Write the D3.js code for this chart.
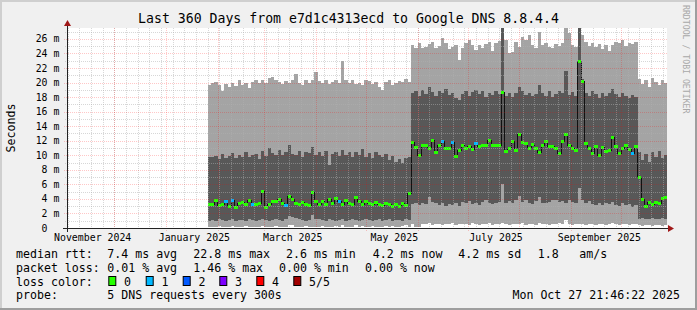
<!DOCTYPE html>
<html>
<head>
<meta charset="utf-8">
<script src="https://cdn.jsdelivr.net/npm/d3@7"></script>
<style>
  body { margin: 0; background: #fff; }
  svg { display: block; font-family: "DejaVu Sans Mono", monospace; }
</style>
</head>
<body>
<svg width="697" height="310"></svg>
<script>
// smokeping: 5 pings per round, consolidated to 2 day steps
const firstDay = "2025-01-26";
const stepDays = 2;

// median ping, ms
const medianRtt = [
  3.3, 3.2, 3.8, 3.1, 3.2, 3.7, 2.9, 3.8, 2.8, 3.4,
  3.5, 3.3, 3.8, 3.2, 3.2, 3.4, 5.0, 2.8, 3.3, 3.6,
  3.7, 3.9, 3.4, 3.1, 4.3, 3.9, 3.4, 3.2, 3.5, 3.3,
  3.1, 4.9, 3.6, 3.3, 3.7, 3.2, 3.9, 3.4, 4.1, 3.6,
  3.3, 3.8, 3.4, 3.2, 4.2, 3.6, 3.3, 3.7, 3.4, 3.2,
  3.5, 3.3, 3.1, 3.4, 3.2, 2.9, 3.3, 3.0, 3.4, 3.1,
  4.8,
  11.7, 11.1, 10.0, 11.4, 11.4, 11.0, 12.1, 10.4, 11.3, 11.9,
  11.0, 11.0, 11.7, 9.8, 10.7, 11.4, 11.0, 11.2, 10.8, 11.6,
  11.2, 11.3, 11.3, 12.1, 11.3, 11.3, 11.3, 18.6, 10.5, 11.0,
  11.9, 10.7, 12.8, 11.8, 11.6, 11.0, 11.5, 10.9, 10.4, 11.3,
  11.9, 11.2, 11.2, 11.0, 10.3, 11.9, 12.9, 11.4, 10.9, 10.6,
  22.9, 20.1, 11.6, 11.0, 10.3, 11.2, 10.0, 11.1, 10.5, 10.6,
  12.5, 11.2, 10.3, 11.0, 11.3, 10.8, 10.3, 11.2,
  7.0, 3.9, 3.0, 3.5, 3.3, 3.5, 3.4, 4.0, 4.2
];

// fastest ping (smoke bottom)
const pingMin = [
  0.2, 0.15, 0.2, 0.3, 0.2, 0.15, 0.2, 0.25, 0.2, 0.15,
  0.2, 0.3, 0.2, 0.15, 0.2, 0.2, 0.25, 0.15, 0.2, 0.2,
  0.3, 0.2, 0.15, 0.2, 0.45, 0.4, 0.2, 0.15, 0.2, 0.25,
  0.2, 0.15, 0.2, 0.2, 0.3, 0.2, 0.15, 0.2, 0.25, 0.2,
  0.4, 0.2, 0.15, 0.2, 0.35, 0.2, 0.25, 0.2, 0.15, 0.3,
  0.2, 0.2, 0.15, 0.25, 0.2, 0.3, 0.2, 0.15, 0.25, 0.35,
  0.2,
  0.5, 0.15, 0.2, 0.6, 0.5, 0.7, 0.4, 0.6, 0.5, 0.45,
  0.6, 0.5, 0.7, 0.4, 0.55, 0.5, 0.6, 0.45, 0.7, 0.5,
  0.4, 0.6, 0.5, 0.65, 0.45, 0.5, 0.6, 0.7, 0.5, 0.4,
  0.6, 0.5, 0.55, 0.7, 0.45, 0.5, 0.6, 0.4, 0.65, 0.5,
  0.55, 0.45, 0.6, 0.5, 0.7, 0.5, 1.1, 0.6, 0.45, 0.5,
  0.6, 0.5, 0.4, 0.6, 0.55, 0.45, 0.5, 0.6, 0.4, 0.5,
  0.65, 0.5, 0.45, 0.6, 0.5, 0.4, 0.55, 0.5,
  0.4, 0.3, 0.35, 0.4, 0.3, 0.35, 0.4, 0.3, 0.35
];

// second ping (dark smoke bottom)
const pingLow = [
  1.0, 1.1, 1.0, 1.2, 1.1, 1.0, 1.1, 1.2, 1.0, 1.1,
  1.1, 1.0, 1.2, 1.1, 1.0, 1.1, 1.2, 1.1, 1.0, 1.1,
  1.2, 1.1, 1.0, 1.3, 1.6, 1.5, 1.4, 1.2, 1.1, 1.0,
  1.1, 1.8, 1.3, 1.2, 1.1, 1.0, 1.2, 1.1, 1.0, 1.1,
  1.2, 1.0, 1.1, 1.2, 1.1, 1.0, 1.1, 1.2, 1.1, 1.0,
  1.1, 1.2, 1.0, 1.1, 1.2, 1.0, 1.1, 1.1, 1.0, 1.2,
  1.1,
  3.3, 3.4, 3.2, 3.5, 3.3, 4.3, 3.6, 3.4, 3.2, 3.5,
  3.0, 3.3, 3.1, 3.4, 3.0, 3.6, 3.4, 3.7, 3.3, 3.5,
  3.2, 3.6, 3.8, 3.4, 3.3, 3.5, 3.6, 6.0, 3.5, 3.7,
  3.4, 3.8, 4.4, 3.6, 3.9, 3.5, 3.3, 3.7, 4.2, 3.5,
  3.4, 3.6, 3.8, 3.9, 3.6, 3.7, 3.5, 3.9, 3.6, 3.4,
  5.5, 3.8, 3.5, 3.7, 3.3, 3.2, 3.5, 3.1, 3.4, 3.3,
  3.6, 3.2, 3.0, 3.4, 3.1, 3.3, 2.9, 3.2,
  1.3, 1.4, 1.2, 1.3, 1.4, 1.2, 1.3, 1.4, 1.3
];

// fourth ping (dark smoke top)
const pingHigh = [
  9.8, 9.7, 9.9, 9.5, 10.2, 9.6, 9.9, 10.3, 9.6, 10.1,
  9.8, 10.4, 9.7, 10.0, 10.2, 9.5, 10.6, 9.9, 11.0, 10.3,
  10.1, 10.7, 10.0, 10.4, 11.4, 10.2, 10.0, 10.6, 9.8, 10.5,
  10.3, 11.2, 10.1, 10.4, 9.9, 10.6, 8.7, 10.2, 10.5, 9.9,
  10.7, 10.1, 10.4, 9.7, 10.5, 10.0, 10.8, 9.8, 10.3, 9.6,
  10.4, 10.0, 9.7, 10.2, 9.4, 9.9, 9.1, 9.5, 9.0, 9.6,
  9.8,
  18.5, 18.8, 18.2, 19.0, 18.4, 19.4, 18.7, 18.1, 18.9, 18.5,
  19.1, 18.3, 18.6, 17.9, 17.6, 18.4, 18.9, 18.2, 18.7, 19.0,
  18.4, 18.8, 18.0, 18.6, 18.3, 18.9, 18.4, 28.5, 18.2, 18.6,
  18.0, 18.5, 19.4, 18.8, 18.3, 18.6, 18.1, 18.4, 19.7, 18.5,
  18.2, 18.8, 18.0, 18.4, 18.9, 18.6, 21.6, 18.3, 18.7, 18.2,
  28.5, 20.5, 18.6, 18.2, 18.8, 18.4, 17.9, 18.5, 18.1, 18.6,
  19.1, 18.4, 18.0, 18.5, 18.2, 17.9, 18.3, 18.0,
  10.5, 9.4, 10.2, 9.1, 10.4, 9.8, 10.6, 9.6, 10.1
];

// slowest ping (smoke top)
const pingMax = [
  19.7, 19.9, 20.1, 19.6, 18.9, 19.8, 19.4, 20.0, 19.5, 20.3,
  19.6, 20.0, 19.3, 20.1, 20.4, 20.0, 20.3, 19.9, 20.6, 20.8,
  20.3, 20.1, 19.8, 20.2, 19.9, 20.4, 21.2, 20.0, 19.7, 20.3,
  19.9, 20.4, 21.5, 20.2, 20.0, 20.3, 19.8, 20.1, 20.4, 19.9,
  22.9, 20.3, 20.0, 20.3, 19.8, 20.0, 19.6, 20.4, 20.2, 19.8,
  20.1, 19.4, 19.0, 20.1, 20.3, 19.6, 19.9, 20.2, 20.1, 20.5,
  20.1,
  25.2, 24.8, 25.4, 24.7, 24.9, 25.3, 25.6, 24.8, 25.0, 26.1,
  25.4, 24.6, 24.9, 25.2, 23.1, 24.8, 25.5, 25.8, 25.2, 24.5,
  25.1, 24.7, 25.3, 25.6, 24.3, 25.4, 25.7, 28.5, 25.9, 24.0,
  24.2, 25.6, 24.9, 26.3, 25.9, 26.5, 25.2, 24.8, 27.0, 25.1,
  25.4, 24.9, 24.7, 25.3, 25.0, 25.5, 27.6, 26.8, 25.1, 24.9,
  28.5, 26.5, 25.6, 25.0, 25.4, 24.9, 25.3, 24.6, 25.2, 24.3,
  25.1, 25.6, 25.4, 25.8, 25.0, 25.5, 25.3, 25.6,
  20.5, 19.8, 20.3, 19.4, 20.6, 20.1, 19.7, 20.4, 19.9
];

// steps where 1 of 5 pings was lost (all others 0)
const oneLossAt = [5, 7, 13, 23, 39, 70, 73, 80, 127];

const yTickValues = [0, 2, 4, 6, 8, 10, 12, 14, 16, 18, 20, 22, 24, 26];

const lossLabels = ["0", "1", "2", "3", "4", "5/5"];
const lossColors = ["#26ff00", "#00b8ff", "#0059ff", "#7e00ff", "#ff0000", "#a10000"];

const rttStats = ["7.4 ms avg", "22.8 ms max", "2.6 ms min", "4.2 ms now", "4.2 ms sd", "1.8", "am/s"];
const lossStats = ["0.01 % avg", "1.46 % max", "0.00 % min", "0.00 % now"];

const width = 697;
const height = 310;
const plot = { left: 67, right: 667, top: 28, bottom: 228 };

const svg = d3.select("svg");

// frame
svg.append("rect").attr("width", width).attr("height", height).attr("fill", "#f0f0f0");
svg.append("rect").attr("x", 0).attr("y", 0).attr("width", width).attr("height", 2).attr("fill", "#cfcfcf");
svg.append("rect").attr("x", 0).attr("y", 0).attr("width", 2).attr("height", height).attr("fill", "#cfcfcf");
svg.append("rect").attr("x", 0).attr("y", height - 2).attr("width", width).attr("height", 2).attr("fill", "#9e9e9e");
svg.append("rect").attr("x", width - 2).attr("y", 0).attr("width", 2).attr("height", height).attr("fill", "#9e9e9e");

svg.append("rect")
  .attr("x", plot.left).attr("y", plot.top)
  .attr("width", plot.right - plot.left).attr("height", plot.bottom - plot.top)
  .attr("fill", "#fff");

const start = new Date(Date.UTC(2024, 10, 2, 14));
const end = d3.utcDay.offset(start, 360);

const x = d3.scaleUtc().domain([start, end]).range([plot.left, plot.right]);
const y = d3.scaleLinear().domain([0, 27.5]).range([plot.bottom, plot.top]);

const t0 = d3.utcParse("%Y-%m-%d")(firstDay);
const rows = medianRtt.map((m, i) => ({
  t: d3.utcDay.offset(t0, stepDays * i),
  min: pingMin[i],
  lo: pingLow[i],
  med: m,
  hi: pingHigh[i],
  max: pingMax[i],
  loss: oneLossAt.includes(i) ? 1 : 0
}));
// close the last step
const last = rows[rows.length - 1];
const stepped = rows.concat([{ ...last, t: d3.utcDay.offset(last.t, stepDays) }]);

svg.append("clipPath").attr("id", "clip")
  .append("rect")
  .attr("x", plot.left).attr("y", plot.top)
  .attr("width", plot.right - plot.left).attr("height", plot.bottom - plot.top);

const g = svg.append("g").attr("clip-path", "url(#clip)");

// smoke
g.append("path")
  .datum(stepped)
  .attr("d", d3.area().curve(d3.curveStepAfter)
    .x((d) => x(d.t)).y0((d) => y(d.min)).y1((d) => y(d.max)))
  .attr("fill", "#a4a4a4")
  .attr("shape-rendering", "crispEdges");

g.append("path")
  .datum(stepped)
  .attr("d", d3.area().curve(d3.curveStepAfter)
    .x((d) => x(d.t)).y0((d) => y(d.lo)).y1((d) => y(d.hi)))
  .attr("fill", "#585858")
  .attr("shape-rendering", "crispEdges");

// grid
const grid = svg.append("g").attr("shape-rendering", "crispEdges");
const px = (v) => Math.round(v) + 0.5;

const weeks = x.ticks(d3.utcSunday);
const months = x.ticks(d3.utcMonth);

grid.selectAll(".vminor")
  .data(weeks)
  .enter()
  .append("line")
  .attr("x1", (d) => px(x(d))).attr("x2", (d) => px(x(d)))
  .attr("y1", plot.top).attr("y2", plot.bottom + 2)
  .attr("stroke", "#b0b0b0")
  .attr("stroke-opacity", 0.5)
  .attr("stroke-dasharray", "1,1");

grid.selectAll(".hminor")
  .data(d3.range(1, 28, 2))
  .enter()
  .append("line")
  .attr("x1", plot.left - 2).attr("x2", plot.right)
  .attr("y1", (d) => px(y(d))).attr("y2", (d) => px(y(d)))
  .attr("stroke", "#b0b0b0")
  .attr("stroke-opacity", 0.5)
  .attr("stroke-dasharray", "1,1");

grid.selectAll(".vmajor")
  .data(months)
  .enter()
  .append("line")
  .attr("x1", (d) => px(x(d))).attr("x2", (d) => px(x(d)))
  .attr("y1", plot.top).attr("y2", plot.bottom + 3)
  .attr("stroke", "#ff0000")
  .attr("stroke-opacity", 0.22)
  .attr("stroke-dasharray", "1,1");

grid.selectAll(".hmajor")
  .data(yTickValues.filter((v) => v > 0))
  .enter()
  .append("line")
  .attr("x1", plot.left - 3).attr("x2", plot.right)
  .attr("y1", (d) => px(y(d))).attr("y2", (d) => px(y(d)))
  .attr("stroke", "#ff0000")
  .attr("stroke-opacity", 0.22)
  .attr("stroke-dasharray", "1,1");

// median line + loss coloured band
g.append("path")
  .datum(stepped)
  .attr("d", d3.line().curve(d3.curveStepAfter).x((d) => x(d.t)).y((d) => y(d.med)))
  .attr("fill", "none")
  .attr("stroke", "#111")
  .attr("stroke-width", 1)
  .attr("shape-rendering", "crispEdges");

g.selectAll(".med")
  .data(rows)
  .enter()
  .append("rect")
  .attr("x", (d) => x(d.t))
  .attr("width", (d) => x(d3.utcDay.offset(d.t, stepDays)) - x(d.t))
  .attr("y", (d) => y(d.med) - 1.5)
  .attr("height", 3)
  .attr("fill", (d) => lossColors[d.loss])
  .attr("shape-rendering", "crispEdges");

// axes
svg.append("line")
  .attr("x1", plot.left - 4).attr("x2", plot.right + 2)
  .attr("y1", plot.bottom + 0.5).attr("y2", plot.bottom + 0.5)
  .attr("stroke", "#222");
svg.append("line")
  .attr("x1", plot.left + 0.5).attr("x2", plot.left + 0.5)
  .attr("y1", plot.bottom + 4).attr("y2", plot.top - 4)
  .attr("stroke", "#222");
svg.append("path")
  .attr("d", `M${plot.right + 1},${plot.bottom - 3} L${plot.right + 7},${plot.bottom + 0.5} L${plot.right + 1},${plot.bottom + 4} Z`)
  .attr("fill", "#a01818");
svg.append("path")
  .attr("d", `M${plot.left - 3},${plot.top - 2} L${plot.left + 0.5},${plot.top - 8} L${plot.left + 4},${plot.top - 2} Z`)
  .attr("fill", "#a01818");

// y labels
const yl = svg.append("g").attr("font-size", 9.8).attr("fill", "#000");
yl.selectAll(".yn")
  .data(yTickValues)
  .enter()
  .append("text")
  .attr("x", 47.5)
  .attr("y", (d) => y(d) + 3.5)
  .attr("text-anchor", "end")
  .text((d) => d);
yl.selectAll(".yu")
  .data(yTickValues.filter((v) => v > 0))
  .enter()
  .append("text")
  .attr("x", 53.5)
  .attr("y", (d) => y(d) + 3.5)
  .text("m");

// x labels, every 2nd month, placed mid-month like rrdtool
const fmt = d3.utcFormat("%B %Y");
const labelMonths = d3.utcMonth.every(2).range(d3.utcMonth.floor(start), end);
svg.append("g")
  .attr("font-size", 9.9)
  .selectAll("text")
  .data(labelMonths)
  .enter()
  .append("text")
  .attr("x", (d) => x(d3.utcDay.offset(d, 17)))
  .attr("y", 241)
  .attr("text-anchor", "middle")
  .text((d) => fmt(d));

// title and side texts
svg.append("text")
  .attr("x", width / 2).attr("y", 22.5)
  .attr("text-anchor", "middle")
  .attr("font-size", 13.2)
  .text("Last 360 Days from e7d1c4313ecd to Google DNS 8.8.4.4");

svg.append("text")
  .attr("transform", `translate(15,${(plot.top + plot.bottom) / 2}) rotate(-90)`)
  .attr("text-anchor", "middle")
  .attr("font-size", 11.6)
  .text("Seconds");

svg.append("text")
  .attr("transform", "translate(683,5) rotate(90)")
  .attr("font-size", 8.2)
  .attr("fill", "#a8a8a8")
  .text("RRDTOOL / TOBI OETIKER");

// legend
const lg = svg.append("g").attr("font-size", 11.6).attr("fill", "#000");
const rowY = [258, 271.8, 285.6, 299.4];

lg.append("text").attr("x", 16).attr("y", rowY[0]).text("median rtt:");
const rttX = [107.3, 193.3, 286, 372.7, 458.3, 537.7, 579.3];
lg.selectAll(".rtt")
  .data(rttStats)
  .enter()
  .append("text")
  .attr("x", (d, i) => rttX[i])
  .attr("y", rowY[0])
  .text((d) => d);

lg.append("text").attr("x", 16).attr("y", rowY[1]).text("packet loss:");
const lossX = [107.3, 193.3, 279, 365];
lg.selectAll(".ls")
  .data(lossStats)
  .enter()
  .append("text")
  .attr("x", (d, i) => lossX[i])
  .attr("y", rowY[1])
  .text((d) => d);

lg.append("text").attr("x", 16).attr("y", rowY[2]).text("loss color:");
const swX = [108.3, 145.7, 182.7, 219.3, 256.3, 293.3];
lg.selectAll(".sw")
  .data(lossColors)
  .enter()
  .append("rect")
  .attr("x", (d, i) => swX[i] + 0.5)
  .attr("y", 276.5)
  .attr("width", 7)
  .attr("height", 9)
  .attr("fill", (d) => d)
  .attr("stroke", "#000")
  .attr("stroke-width", 1);
lg.selectAll(".swl")
  .data(lossLabels)
  .enter()
  .append("text")
  .attr("x", (d, i) => swX[i] + 15.7)
  .attr("y", rowY[2])
  .text((d) => d);

lg.append("text").attr("x", 16).attr("y", rowY[3]).text("probe:");
lg.append("text").attr("x", 107.3).attr("y", rowY[3]).text("5 DNS requests every 300s");
lg.append("text").attr("x", 680).attr("y", rowY[3]).attr("text-anchor", "end")
  .text("Mon Oct 27 21:46:22 2025");
</script>
</body>
</html>
